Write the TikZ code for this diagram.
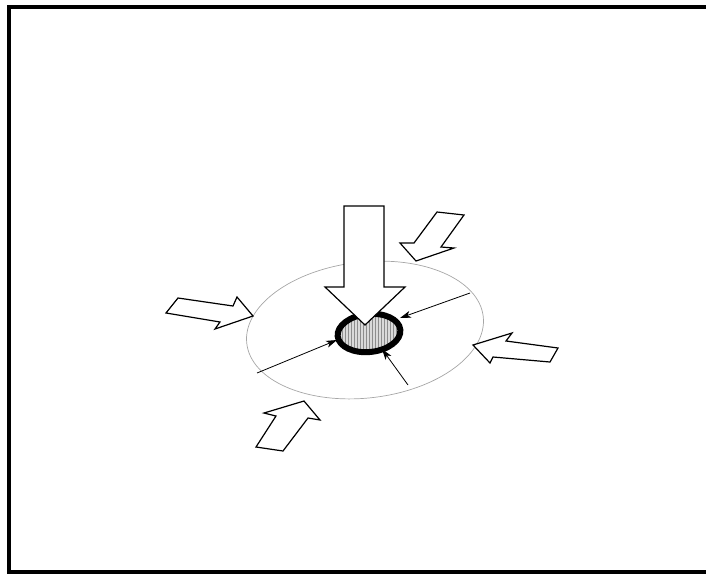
\documentclass[tikz,border=0pt]{standalone}
\usetikzlibrary{arrows.meta,patterns}
\begin{document}
\begin{tikzpicture}[x=1pt,y=-1pt,
  blockarrow/.style={draw=black,fill=white,line width=1.2pt,line join=miter},
  radial/.style={draw=black,line width=0.8pt,-{Stealth[length=11pt,width=7pt,inset=3pt]}},
  frameline/.style={line width=4pt,line cap=butt,line join=miter}]
\useasboundingbox (0,0) rectangle (706,574);
% frame (right side cut off)
\draw[frameline] (706,7) -- (9,7) -- (9,572) -- (706,572);
% big ellipse
\draw[gray!70,line width=0.7pt,rotate around={6.5:(365,330)}] (365,330) ellipse [x radius=119, y radius=68];
% small ellipse
\fill[gray!30,rotate around={6:(369,333)}] (369,333) ellipse [x radius=31.5, y radius=19];
\fill[pattern=vertical lines,pattern color=gray!90,rotate around={6:(369,333)}] (369,333) ellipse [x radius=31.5, y radius=19];
\draw[black,line width=6pt,rotate around={6:(369,333)}] (369,333) ellipse [x radius=31.5, y radius=19];
% radial connectors
\coordinate (r1s) at (257,373); \coordinate (r1e) at (337,340);
\coordinate (r2s) at (470,293); \coordinate (r2e) at (400,318);
\coordinate (r3s) at (408,385); \coordinate (r3e) at (382,349);
\draw[radial] (r1s) -- (r1e);
\draw[radial] (r2s) -- (r2e);
\draw[radial] (r3s) -- (r3e);
% big down arrow
\draw[blockarrow] (344,206) -- (384,206) -- (384,287) -- (405,287) -- (365,325) -- (325,287) -- (344,287) -- cycle;
% left arrow
\draw[blockarrow] (178,298) -- (233,306) -- (237,297) -- (253,316) -- (215,329) -- (220,322) -- (166,313) -- cycle;
% right arrow
\draw[blockarrow] (473,345) -- (512,333) -- (506,341) -- (558,348) -- (550,362) -- (493,357) -- (490,363) -- cycle;
% bottom arrow
\draw[blockarrow] (304,401) -- (320,420) -- (308,418) -- (283,451) -- (256,447) -- (276,416) -- (264,413) -- cycle;
% top-right arrow
\draw[blockarrow] (437,212) -- (464,215) -- (441,247) -- (454,248) -- (416,261) -- (400,243) -- (414,243) -- cycle;
\end{tikzpicture}
\end{document}
